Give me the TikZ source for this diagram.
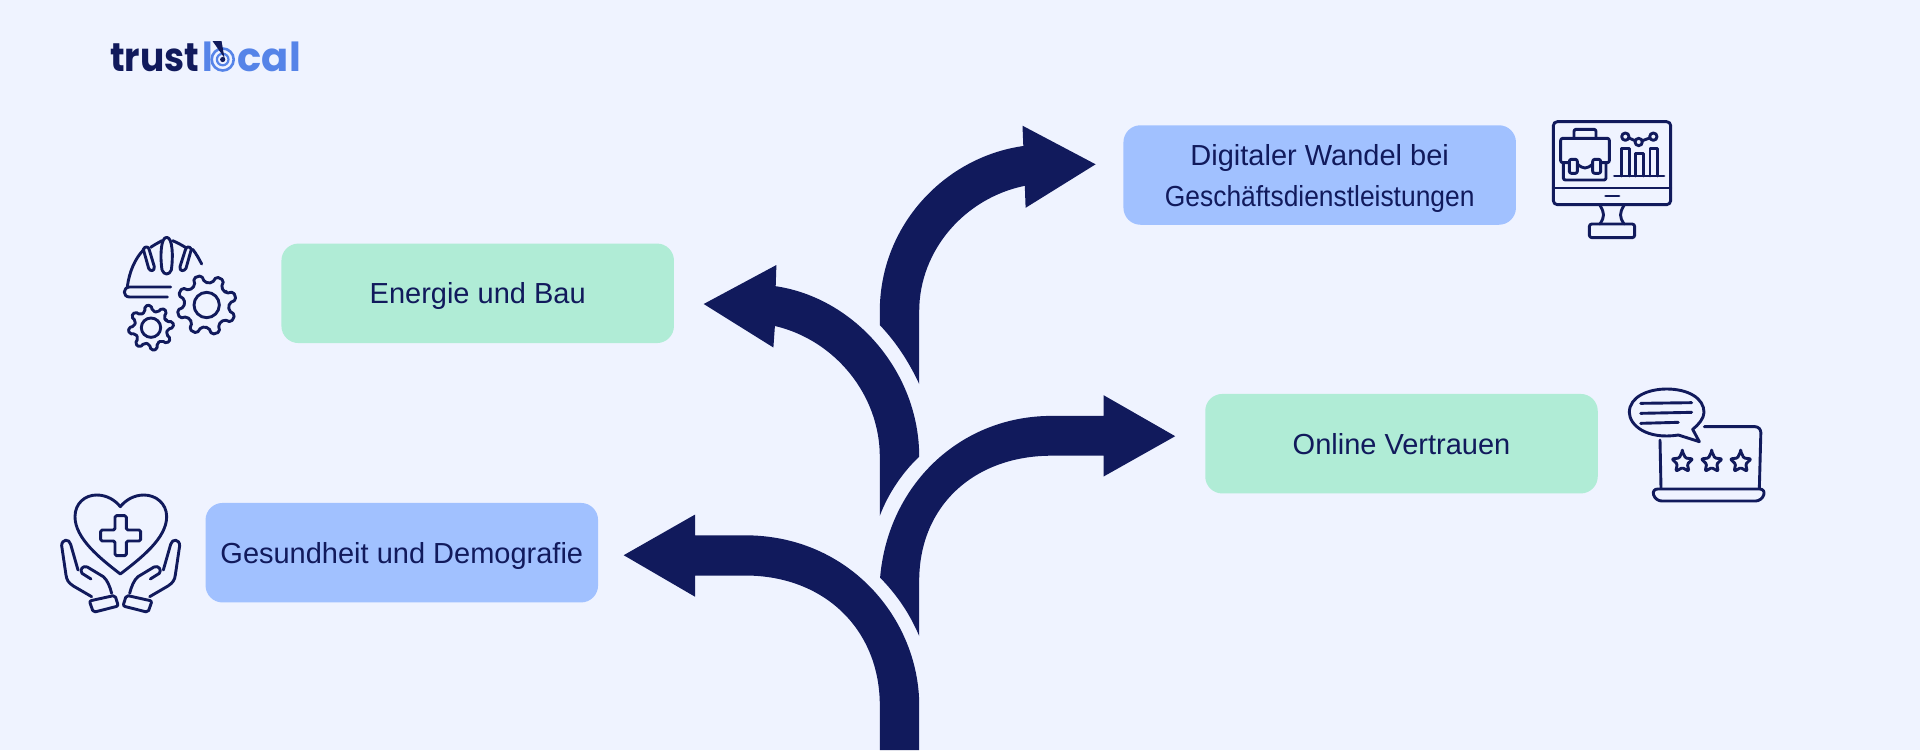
\documentclass[tikz,border=0pt]{standalone}
\usepackage{fontspec}
\setmainfont{Liberation Sans}
\newfontfamily\logofont{Poppins}
\newfontfamily\logotight[FakeStretch=0.9]{Poppins}
\usepackage{tikz}
\definecolor{pagebg}{HTML}{EFF3FF}
\definecolor{navy}{HTML}{111A5C}
\definecolor{boxblue}{HTML}{A1C1FF}
\definecolor{boxgreen}{HTML}{B0ECD6}
\definecolor{logoblue}{HTML}{5684E8}
\newcommand{\gearwheel}[6]{%
  \draw[icon, shift={(#1,#2)}] (0,0) circle (#3);
  \draw[icon, shift={(#1,#2)}, rotate=#6, rounded corners=2pt] (-13:#4)
    \foreach \a in {0,45,...,315} {-- ({\a-13}:#4) -- ({\a-8}:#5) -- ({\a+8}:#5) -- ({\a+13}:#4)} -- cycle;}
\newcommand{\ratingstar}[2]{%
  \draw[icon, shift={(#1,#2)}, rounded corners=1.2pt] (-90:33)
    \foreach \a in {-90,-18,54,126,198} {-- (\a:33) -- ({\a+36}:16)} -- cycle;}
\begin{document}
\begin{tikzpicture}[
  x=1pt, y=-1pt,
  lbox/.style={rounded corners=17pt, align=center, text=navy, inner sep=0pt, text height=21pt, text depth=0pt,
              font=\fontsize{29}{41}\selectfont, minimum height=99.5pt, minimum width=392.5pt},
  bluebox/.style={lbox, fill=boxblue},
  greenbox/.style={lbox, fill=boxgreen},
  flow/.style={fill=navy},
  icon/.style={draw=navy, line width=2.9pt, line cap=round, line join=round},
  logotxt/.style={font=\logotight\bfseries\fontsize{40}{40}\selectfont, inner sep=0pt, anchor=base west}
]
\useasboundingbox (0,0) rectangle (1920,750);
\fill[pagebg] (0,0) rectangle (1920,750);

\node[bluebox, text height=62pt] (digital) at (1319.7,175) {Digitaler Wandel bei\\\addfontfeature{FakeStretch=0.91}Geschäftsdienstleistungen};
\node[greenbox] (energie) at (477.7,293.3) {Energie und Bau};
\node[greenbox] (online) at (1401.5,443.7) {Online Vertrauen};
\node[bluebox] (gesund) at (401.8,552.7) {Gesundheit und Demografie};

\fill[flow] (879.8,750) -- (879.8,705.3) .. controls (879.8,630) and (825,575.5) .. (745,575.5)
  -- (695,575.5) -- (695,596.7) -- (623.7,555.2) -- (695,514.6) -- (695,535.3) -- (745,535.3)
  .. controls (850,535.3) and (919.2,620) .. (919.2,705.3) -- (919.2,750) -- cycle;
\fill[flow] (919.2,636) -- (919.2,580.9) .. controls (919.2,505) and (975,455.7) .. (1051.6,455.7)
  -- (1103.6,455.7) -- (1103.6,476.5) -- (1175.2,436.2) -- (1103.6,395.2) -- (1103.6,415.9) -- (1051.6,415.9)
  .. controls (960,415.9) and (888,485) .. (880.1,577.6) .. controls (896,594) and (909,612) .. cycle;
\fill[flow] (879.8,515.8) -- (879.8,456.6) .. controls (879.8,395) and (835,340) .. (774.9,326)
  -- (773.4,347.5) -- (703.7,304) -- (776.4,265) -- (775.7,286.2)
  .. controls (855,298) and (919.2,372) .. (919.2,456.6) .. controls (902,473) and (888,494) .. cycle;
\fill[flow] (919.2,384) -- (919.2,311.4) .. controls (919.2,250) and (965,198) .. (1024.8,185.8)
  -- (1025.6,207.8) -- (1095.6,164.3) -- (1022.5,125.7) -- (1023.3,146)
  .. controls (945,157) and (879.8,225) .. (879.8,311.4) -- (879.8,325.1) .. controls (896,342) and (909,362) .. cycle;

\node[logotxt, text=navy] (logotrust) at (110,71.7) {trust};
\node[logotxt, font=\logofont\bfseries\fontsize{40}{40}\selectfont, text=logoblue, anchor=base east] (logocal) at (301,71.7) {cal};
\node[logotxt, text=logoblue] (logol) at (202.5,71.7) {l};
\draw[logoblue, line width=2.6pt] (222.7,59.5) circle (11);
\draw[logoblue, line width=2.2pt] (222.7,59.5) circle (5.8);
\fill[navy] (222.7,59.5) circle (2.6);
\fill[navy] (212.5,41) -- (221.5,41) -- (224.5,58) -- cycle;

\begin{scope}[shift={(1520,100)}, scale=1/3]
\draw[icon, rounded corners=4pt] (100,65) rectangle (452,314);
\draw[icon] (100,264) -- (452,264);
\draw[icon] (257,288) -- (297,288);
\draw[icon] (240,316) .. controls (254,340) and (254,350) .. (240,372);
\draw[icon] (312,316) .. controls (298,340) and (298,350) .. (312,372);
\draw[icon, rounded corners=2.5pt] (208,372) rectangle (344,413);
\draw[icon, rounded corners=2pt] (162,115) -- (162,88) -- (228,88) -- (228,115);
\draw[icon, rounded corners=2pt] (148,188) -- (122,188) -- (122,115) -- (268,115) -- (268,188) -- (242,188);
\draw[icon, rounded corners=2pt] (130,190) -- (130,240) -- (258,240) -- (258,190);
\draw[icon, rounded corners=2pt] (148,178) rectangle (172,220);
\draw[icon, rounded corners=2pt] (218,178) rectangle (242,220);
\draw[icon] (172,192) .. controls (190,208) and (200,208) .. (218,192);
\draw[icon] (304,228) -- (304,145) -- (328,145) -- (328,228);
\draw[icon] (346,228) -- (346,160) -- (370,160) -- (370,228);
\draw[icon] (390,228) -- (390,145) -- (412,145) -- (412,228);
\draw[icon] (283,228) -- (432,228);
\draw[icon] (316,110) circle (11);
\draw[icon] (356,126) circle (11);
\draw[icon] (400,110) circle (11);
\draw[icon] (327,114) -- (345,122);
\draw[icon] (367,122) -- (389,114);
\end{scope}

\begin{scope}[shift={(100,220)}, scale=1/3]
\draw[icon] (82,200) .. controls (88,155) and (105,115) .. (132,88);
\draw[icon] (152,82) .. controls (162,75) and (175,68) .. (186,62);
\draw[icon] (218,62) .. controls (232,68) and (245,75) .. (256,82);
\draw[icon] (278,88) .. controls (288,100) and (298,118) .. (305,132);
\draw[icon] (186,150) .. controls (180,110) and (182,52) .. (200,52) .. controls (218,52) and (220,110) .. (214,150) .. controls (208,166) and (192,166) .. cycle;
\draw[icon] (130,88) .. controls (134,78) and (146,78) .. (148,90) -- (163,140) .. controls (164,155) and (150,155) .. (146,145) -- cycle;
\draw[icon] (274,88) .. controls (270,78) and (258,78) .. (256,90) -- (240,140) .. controls (238,155) and (252,155) .. (258,145) -- cycle;
\draw[icon] (212,201) -- (88,201) .. controls (68,203) and (68,230) .. (88,231) -- (202,231);
\gearwheel{320}{255}{38}{68}{90}{18}
\gearwheel{153}{323}{29}{50}{68}{8}
\end{scope}

\begin{scope}[shift={(1610,375)}, scale=1/3]
\draw[icon] (248,163) -- (268,200) -- (205,180) .. controls (110,195) and (58,150) .. (58,112)
  .. controls (58,65) and (115,42) .. (170,42) .. controls (235,42) and (282,70) .. (282,112) .. controls (282,130) and (265,150) .. cycle;
\draw[icon] (92,85) -- (245,83);
\draw[icon] (92,115) -- (245,112);
\draw[icon] (92,145) -- (205,142);
\draw[icon] (150,195) -- (153,340);
\draw[icon, rounded corners=6pt] (283,155) -- (453,155) -- (448,340);
\draw[icon, rounded corners=6pt] (125,342) -- (467,342) -- (455,378) -- (137,378) -- cycle;
\ratingstar{217}{262}
\ratingstar{305}{262}
\ratingstar{392}{262}
\end{scope}

\begin{scope}[shift={(50,485)}, scale=1/3]
\draw[icon] (211,267) .. controls (150,220) and (75,160) .. (75,95) .. controls (75,55) and (105,30) .. (140,30)
  .. controls (170,30) and (195,45) .. (211,65) .. controls (227,45) and (252,30) .. (282,30)
  .. controls (317,30) and (350,55) .. (350,95) .. controls (350,160) and (272,220) .. cycle;
\draw[icon, rounded corners=1.5pt] (195,92) -- (229,92) -- (229,135) -- (272,135) -- (272,168) -- (229,168) -- (229,212) -- (195,212) -- (195,168) -- (152,168) -- (152,135) -- (195,135) -- cycle;
\foreach \side/\flip in {0/1,424/-1} {
\begin{scope}[shift={(\side,0)}, xscale=\flip]
\draw[icon, rounded corners=2pt] (118,348) -- (195,331) -- (205,363) -- (130,382) -- cycle;
\draw[icon] (125,335) -- (70,303) .. controls (55,293) and (50,285) .. (48,270) -- (35,182) .. controls (35,162) and (58,160) .. (62,178) -- (84,255);
\draw[icon] (123,282) -- (96,265) .. controls (88,255) and (98,240) .. (112,246) -- (160,275) .. controls (172,285) and (180,305) .. (185,325);
\end{scope}}
\end{scope}
\end{tikzpicture}
\end{document}
